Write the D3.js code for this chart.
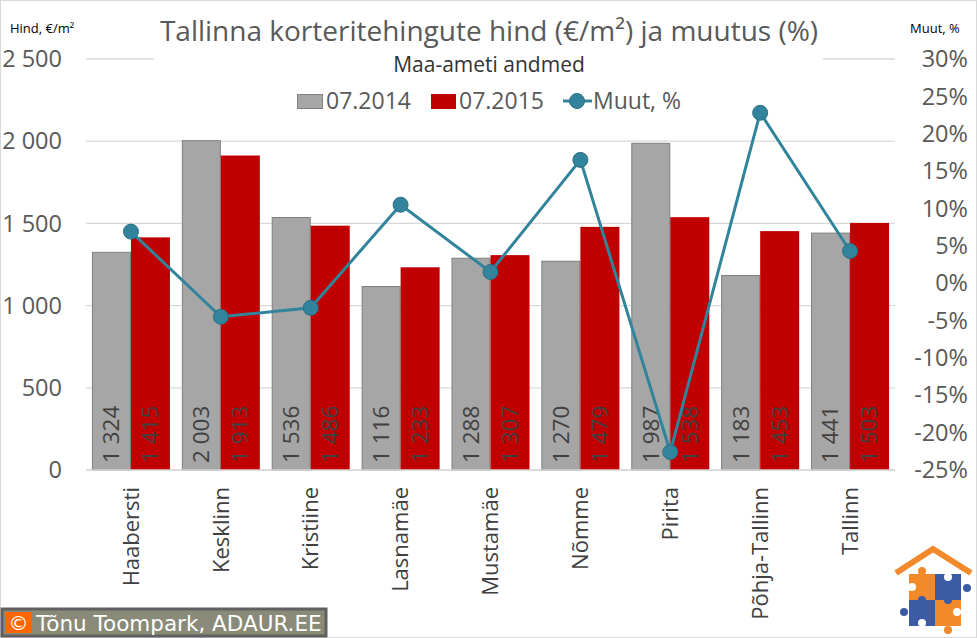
<!DOCTYPE html>
<html>
<head>
<meta charset="utf-8">
<script src="https://cdn.jsdelivr.net/npm/d3@7"></script>
<style>
  body { margin: 0; background: #fff; }
  svg text { font-family: "Open Sans", "Noto Sans", sans-serif; }
</style>
</head>
<body>
<div id="chart"></div>
<script>
const categories = ['Haabersti', 'Kesklinn', 'Kristiine', 'Lasnamäe', 'Mustamäe', 'Nõmme', 'Pirita', 'Põhja-Tallinn', 'Tallinn'];
const price2014 = [1324, 2003, 1536, 1116, 1288, 1270, 1987, 1183, 1441];
const price2015 = [1415, 1913, 1486, 1233, 1307, 1479, 1538, 1453, 1503];
const change = [6.9, -4.5, -3.3, 10.5, 1.5, 16.5, -22.6, 22.8, 4.3];
const leftTicks = [0, 500, 1000, 1500, 2000, 2500];
const rightTicks = [30, 25, 20, 15, 10, 5, 0, -5, -10, -15, -20, -25];

const width = 977, height = 638;
const plotLeft = 86, plotRight = 895, plotTop = 59, plotBottom = 470;

const svg = d3.select('#chart').append('svg')
  .attr('width', width)
  .attr('height', height);

svg.append('rect')
  .attr('x', 0.5).attr('y', 0.5)
  .attr('width', width - 1).attr('height', height - 1)
  .attr('fill', '#fff').attr('stroke', '#d9d9d9');

const x = d3.scaleBand().domain(categories).range([plotLeft, plotRight])
  .paddingInner(0.132).paddingOuter(0.066);
const x1 = d3.scaleBand().domain(['a', 'b']).range([0, x.bandwidth()]);
const y = d3.scaleLinear().domain([0, 2500]).range([plotBottom, plotTop]);
const y2 = d3.scaleLinear().domain([-25, 30]).range([plotBottom, plotTop]);

const fmt = d => d3.format(',')(d).replace(/,/g, ' ');

// grid
svg.append('g').selectAll('line')
  .data(leftTicks)
  .enter().append('line')
  .attr('x1', plotLeft).attr('x2', plotRight)
  .attr('y1', d => y(d)).attr('y2', d => y(d))
  .attr('stroke', '#d9d9d9').attr('stroke-width', 1.3);

// white box behind title covers top grid line
svg.append('rect')
  .attr('x', 154).attr('y', 2).attr('width', 669).attr('height', 118)
  .attr('fill', '#fff');

// left axis
svg.append('g').selectAll('text')
  .data(leftTicks)
  .enter().append('text')
  .attr('x', 62).attr('y', d => y(d))
  .attr('dy', '0.35em')
  .attr('text-anchor', 'end')
  .attr('font-size', 23.5)
  .attr('fill', '#595959')
  .text(d => fmt(d));

// right axis
svg.append('g').selectAll('text')
  .data(rightTicks)
  .enter().append('text')
  .attr('x', 968).attr('y', d => y2(d))
  .attr('dy', '0.35em')
  .attr('text-anchor', 'end')
  .attr('font-size', 23.5)
  .attr('fill', '#595959')
  .text(d => d + '%');

// bars
const g = svg.selectAll('.cat')
  .data(categories)
  .enter().append('g')
  .attr('transform', d => 'translate(' + x(d) + ',0)');

g.append('rect')
  .attr('x', x1('a') + 0.5)
  .attr('y', (d, i) => y(price2014[i]))
  .attr('width', x1.bandwidth() - 1)
  .attr('height', (d, i) => plotBottom - y(price2014[i]))
  .attr('fill', '#a6a6a6').attr('stroke', '#7f7f7f').attr('stroke-width', 1);

g.append('rect')
  .attr('x', x1('b'))
  .attr('y', (d, i) => y(price2015[i]))
  .attr('width', x1.bandwidth())
  .attr('height', (d, i) => plotBottom - y(price2015[i]))
  .attr('fill', '#c00000');

g.append('text')
  .attr('transform', 'translate(' + (x1('a') + x1.bandwidth() / 2) + ',' + (plotBottom - 7) + ') rotate(-90)')
  .attr('dy', '0.35em')
  .attr('font-size', 22.5).attr('fill', '#404040')
  .text((d, i) => fmt(price2014[i]));

g.append('text')
  .attr('transform', 'translate(' + (x1('b') + x1.bandwidth() / 2) + ',' + (plotBottom - 7) + ') rotate(-90)')
  .attr('dy', '0.35em')
  .attr('font-size', 22.5).attr('fill', '#404040')
  .text((d, i) => fmt(price2015[i]));

// baseline
svg.append('line')
  .attr('x1', plotLeft).attr('x2', plotRight)
  .attr('y1', plotBottom).attr('y2', plotBottom)
  .attr('stroke', '#d9d9d9').attr('stroke-width', 1.3);

// category labels
g.append('text')
  .attr('transform', 'translate(' + (x.bandwidth() / 2) + ',' + (plotBottom + 17) + ') rotate(-90)')
  .attr('dy', '0.35em')
  .attr('text-anchor', 'end')
  .attr('font-size', 22).attr('fill', '#404040')
  .text(d => d);

// line
const line = d3.line()
  .x((d, i) => x(categories[i]) + x.bandwidth() / 2)
  .y(d => y2(d));

svg.append('path')
  .datum(change)
  .attr('d', line)
  .attr('fill', 'none')
  .attr('stroke', '#31849b').attr('stroke-width', 3);

svg.append('g').selectAll('circle')
  .data(change)
  .enter().append('circle')
  .attr('cx', (d, i) => x(categories[i]) + x.bandwidth() / 2)
  .attr('cy', d => y2(d))
  .attr('r', 7.5)
  .attr('fill', '#31849b').attr('stroke', '#2a7085').attr('stroke-width', 1);

// titles
svg.append('text')
  .attr('x', 489).attr('y', 41)
  .attr('text-anchor', 'middle')
  .attr('font-size', 28).attr('fill', '#595959')
  .text('Tallinna korteritehingute hind (€/m²) ja muutus (%)');

svg.append('text')
  .attr('x', 489).attr('y', 72)
  .attr('text-anchor', 'middle')
  .attr('font-size', 21).attr('fill', '#333')
  .text('Maa-ameti andmed');

svg.append('text')
  .attr('x', 10).attr('y', 33)
  .attr('font-size', 13).attr('fill', '#000')
  .text('Hind, €/m²');

svg.append('text')
  .attr('x', 910).attr('y', 33)
  .attr('font-size', 13).attr('fill', '#000')
  .text('Muut, %');

// legend
const lg = svg.append('g');
lg.append('rect').attr('x', 297.5).attr('y', 94.5).attr('width', 25).attr('height', 14)
  .attr('fill', '#a6a6a6').attr('stroke', '#7f7f7f');
lg.append('text').attr('x', 326).attr('y', 101).attr('dy', '0.35em')
  .attr('font-size', 23).attr('fill', '#595959').text('07.2014');
lg.append('rect').attr('x', 431).attr('y', 94).attr('width', 25).attr('height', 15)
  .attr('fill', '#c00000');
lg.append('text').attr('x', 459).attr('y', 101).attr('dy', '0.35em')
  .attr('font-size', 23).attr('fill', '#595959').text('07.2015');
lg.append('line').attr('x1', 563).attr('x2', 592).attr('y1', 101).attr('y2', 101)
  .attr('stroke', '#31849b').attr('stroke-width', 3);
lg.append('circle').attr('cx', 577).attr('cy', 101).attr('r', 7.5)
  .attr('fill', '#31849b').attr('stroke', '#2a7085');
lg.append('text').attr('x', 593).attr('y', 101).attr('dy', '0.35em')
  .attr('font-size', 23).attr('fill', '#595959').text('Muut, %');

// copyright box
svg.append('rect').attr('x', 2).attr('y', 609).attr('width', 324).attr('height', 27)
  .attr('fill', '#8a8a78').attr('stroke', '#606060').attr('stroke-width', 3);
svg.append('rect').attr('x', 5).attr('y', 612).attr('width', 27).attr('height', 21)
  .attr('fill', '#ff6600');
svg.append('text').attr('x', 18.5).attr('y', 623).attr('dy', '0.35em')
  .attr('text-anchor', 'middle').attr('font-size', 20)
  .style('font-family', '"DejaVu Sans", sans-serif').attr('fill', '#fff').text('©');
svg.append('text').attr('x', 36).attr('y', 623).attr('dy', '0.35em')
  .attr('font-size', 21.5).style('font-family', '"DejaVu Sans", sans-serif')
  .attr('fill', '#fff').text('Tõnu Toompark, ADAUR.EE');

// logo
const orange = '#f28a2c', blue = '#3b5ba5';
const logo = svg.append('g');
logo.append('polyline')
  .attr('points', '896,573 933,549 971,573')
  .attr('fill', 'none').attr('stroke', orange).attr('stroke-width', 6);
const pieces = [
  [909, 574, orange], [935, 574, blue],
  [909, 600, blue], [935, 600, orange]
];
logo.selectAll('rect').data(pieces).enter().append('rect')
  .attr('x', d => d[0]).attr('y', d => d[1])
  .attr('width', 26).attr('height', 26)
  .attr('fill', d => d[2]);
const knobs = [
  [922, 571, orange], [967, 588, blue], [904, 612, blue], [948, 630, orange],
  [922, 600, blue], [948, 600, blue],
  [912, 587, '#fff'], [948, 577, '#fff'], [957, 612, '#fff'], [922, 623, '#fff']
];
logo.selectAll('circle').data(knobs).enter().append('circle')
  .attr('cx', d => d[0]).attr('cy', d => d[1]).attr('r', 4)
  .attr('fill', d => d[2]);
</script>
</body>
</html>
